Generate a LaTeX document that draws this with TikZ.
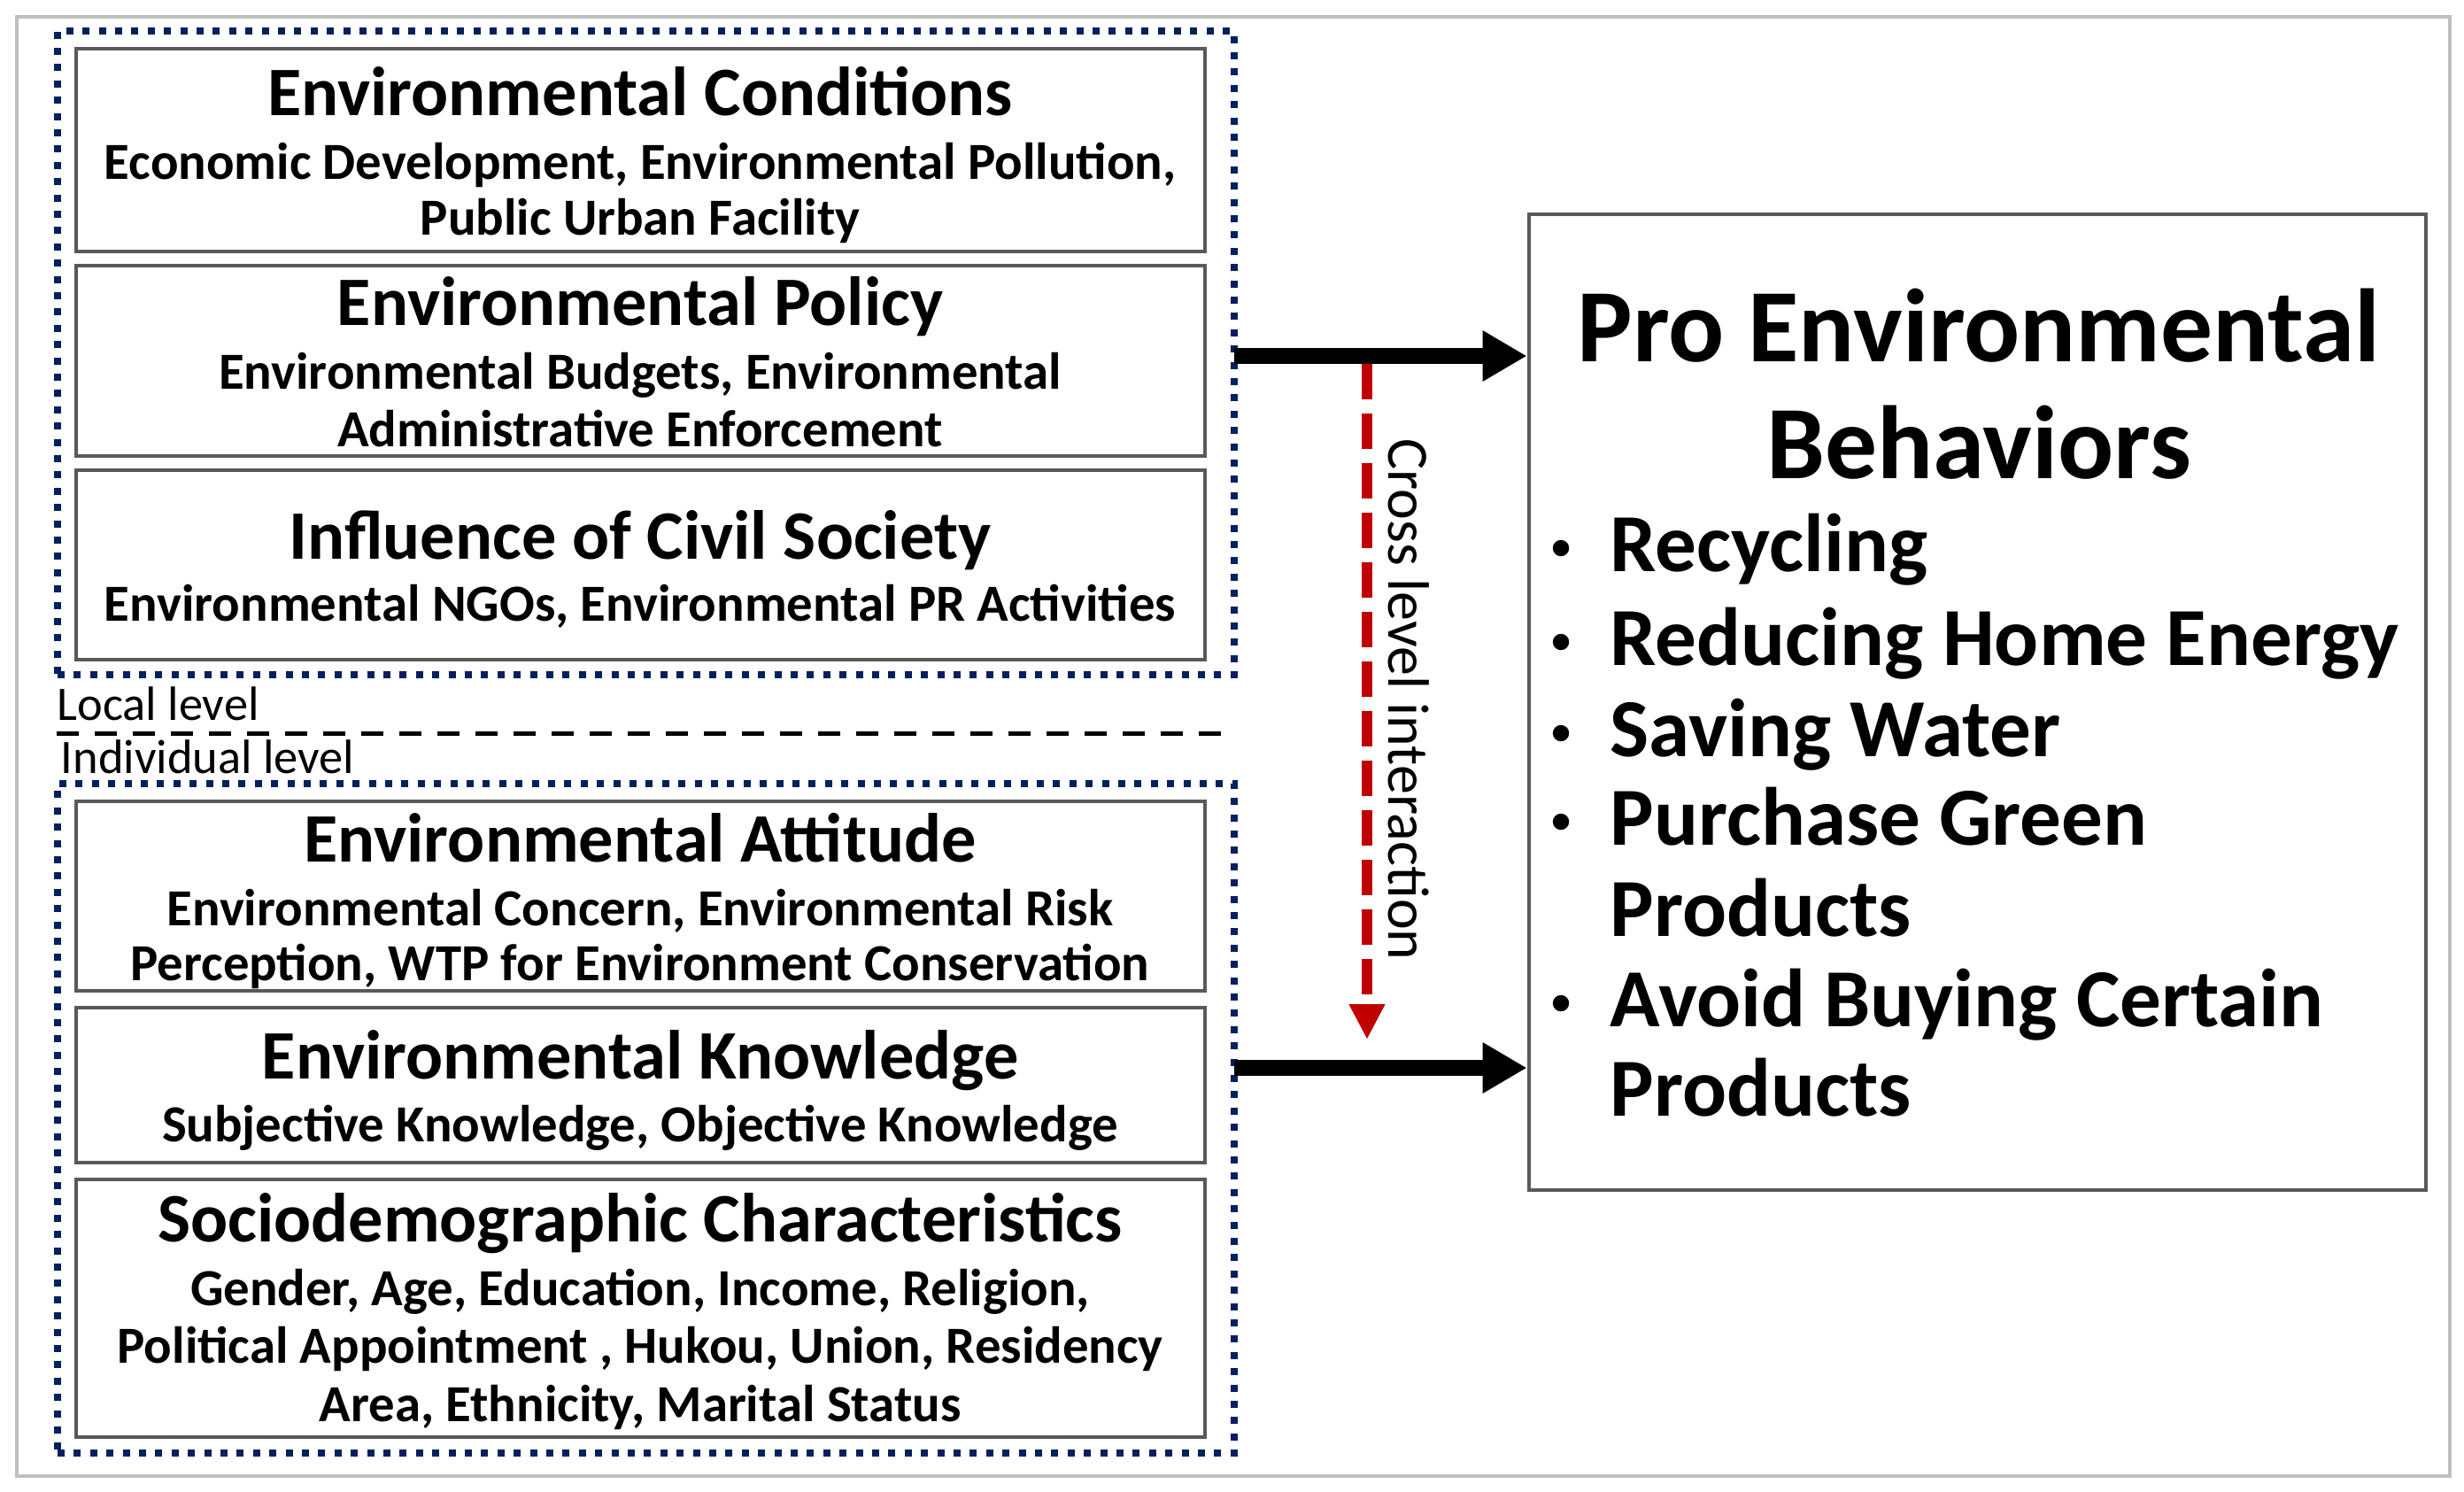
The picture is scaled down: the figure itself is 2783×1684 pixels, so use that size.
\documentclass[tikz,border=0pt]{standalone}
\usepackage{fontspec}
\setmainfont{Carlito}
\usetikzlibrary{arrows.meta,fit}
\definecolor{navy}{HTML}{002060}
\definecolor{darkred}{HTML}{C00000}
\definecolor{framegray}{HTML}{BFBFBF}
\definecolor{boxgray}{HTML}{595959}
\begin{document}
\begin{tikzpicture}[x=0.25pt,y=-0.25pt,
  box/.style={draw=boxgray, line width=1.2pt, inner sep=0pt},
  dotbox/.style={draw=navy, line width=2pt, dash pattern=on 2pt off 2.6pt, inner sep=0pt},
  ttl/.style={anchor=base, inner sep=0pt, font=\fontsize{19.6}{23}\selectfont\bfseries},
  subl/.style={anchor=base, inner sep=0pt, font=\fontsize{14.7}{17}\selectfont\bfseries},
  lvl/.style={anchor=base west, inner sep=0pt, font=\fontsize{13.6}{16}\selectfont},
  bigttl/.style={anchor=base, inner sep=0pt, font=\fontsize{29.4}{34}\selectfont\bfseries},
  bultxt/.style={anchor=base west, inner sep=0pt, font=\fontsize{23.3}{27}\selectfont\bfseries},
  bulmark/.style={circle, fill=black, inner sep=0pt, minimum size=4.6pt},
  bigarrow/.style={line width=4.5pt, -{Triangle[length=12.5pt,width=13.5pt]}},
  crossarrow/.style={draw=darkred, line width=3pt, dash pattern=on 10pt off 4pt,
    -{Triangle[length=10pt,width=9.5pt]}},
  sepline/.style={line width=1.25pt, dash pattern=on 6.25pt off 4.5pt},
  crosstxt/.style={anchor=base, rotate=-90, inner sep=0pt, font=\fontsize{16.5}{19}\selectfont}
]
\useasboundingbox (0,0) rectangle (2783,1684);
\draw[framegray, line width=1pt] (19,19) rectangle (2767,1667);

% dotted group boxes
\node[dotbox, fit={(65,35) (1394,762)}] (local) {};
\node[dotbox, fit={(65,885) (1394,1641)}] (indiv) {};

% inner boxes
\node[box, fit={(86,55) (1361,284)}] (b1) {};
\node[box, fit={(86,300) (1361,515)}] (b2) {};
\node[box, fit={(86,531) (1361,745)}] (b3) {};
\node[box, fit={(86,905) (1361,1119)}] (b4) {};
\node[box, fit={(86,1138) (1361,1313)}] (b5) {};
\node[box, fit={(86,1332) (1361,1623)}] (b6) {};

% texts of box 1
\node[ttl] (t1) at (723,130) {Environmental Conditions};
\node[subl] (s1a) at (723,202) {Economic Development, Environmental Pollution,};
\node[subl] (s1b) at (723,265) {Public Urban Facility};
% box 2
\node[ttl] (t2) at (723,367) {Environmental Policy};
\node[subl] (s2a) at (723,439) {Environmental Budgets, Environmental};
\node[subl] (s2b) at (723,504) {Administrative Enforcement};
% box 3
\node[ttl] (t3) at (723,631) {Influence of Civil Society};
\node[subl] (s3a) at (723,701) {Environmental NGOs, Environmental PR Activities};
% box 4
\node[ttl] (t4) at (723,973) {Environmental Attitude};
\node[subl] (s4a) at (723,1045) {Environmental Concern, Environmental Risk};
\node[subl] (s4b) at (723,1107) {Perception, WTP for Environment Conservation};
% box 5
\node[ttl] (t5) at (723,1218) {Environmental Knowledge};
\node[subl] (s5a) at (723,1289) {Subjective Knowledge, Objective Knowledge};
% box 6
\node[ttl] (t6) at (723,1402) {Sociodemographic Characteristics};
\node[subl] (s6a) at (723,1474) {Gender, Age, Education, Income, Religion,};
\node[subl] (s6b) at (723,1539) {Political Appointment , Hukou, Union, Residency};
\node[subl] (s6c) at (723,1605) {Area, Ethnicity, Marital Status};

% level labels and separator
\node[lvl] (loclbl) at (64,813) {Local level};
\node[lvl] (indlbl) at (68,873) {Individual level};
\coordinate (sepL) at (64,828);
\coordinate (sepR) at (1387,828);
\draw[sepline] (sepL) -- (sepR);

% outcome box
\node[box, fit={(1727,242) (2740,1344)}] (peb) {};
\node[bigttl] (pt1) at (2235,408) {Pro Environmental};
\node[bigttl] (pt2) at (2235,540) {Behaviors};
\node[bulmark] (m1) at (1763,619) {};
\node[bultxt] (i1) at (1818,645) {Recycling};
\node[bulmark] (m2) at (1763,725) {};
\node[bultxt] (i2) at (1818,751) {Reducing Home Energy};
\node[bulmark] (m3) at (1763,828) {};
\node[bultxt] (i3) at (1818,854) {Saving Water};
\node[bulmark] (m4) at (1763,928) {};
\node[bultxt] (i4) at (1818,954) {Purchase Green};
\node[bultxt] (i4b) at (1818,1057) {Products};
\node[bulmark] (m5) at (1763,1133) {};
\node[bultxt] (i5) at (1818,1159) {Avoid Buying Certain};
\node[bultxt] (i5b) at (1818,1260) {Products};

% arrows
\coordinate (a1s) at (1394,402);
\coordinate (a2s) at (1394,1206);
\draw[bigarrow] (a1s) -- (a1s -| peb.west);
\draw[bigarrow] (a2s) -- (a2s -| peb.west);
\coordinate (cs) at (1544,411);
\coordinate (ce) at (1544,1174);
\draw[crossarrow] (cs) -- (ce);
\node[crosstxt] (crosslbl) at (1568,790) {Cross level interaction};
\end{tikzpicture}
\end{document}
